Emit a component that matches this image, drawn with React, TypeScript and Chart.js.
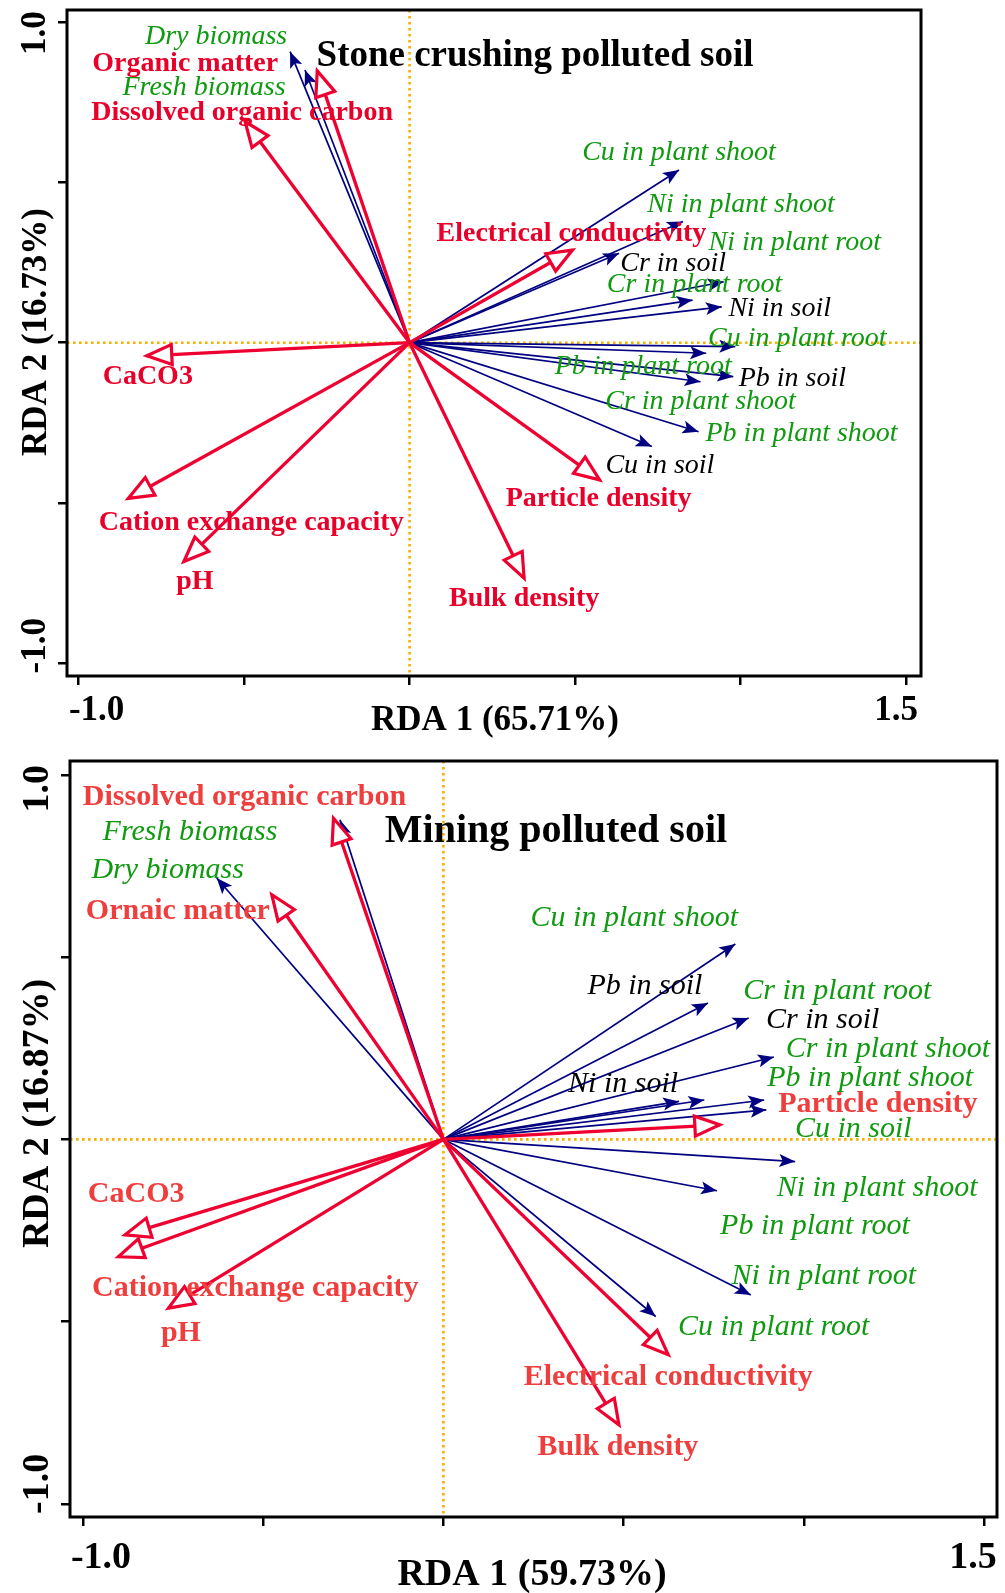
import React, { useEffect, useRef } from 'react';
import { Chart, registerables } from 'chart.js';

Chart.register(...registerables);

// ---------------- Data: Stone crushing polluted soil ----------------
const stoneEnvNames = ['Organic matter', 'Dissolved organic carbon', 'Electrical conductivity', 'CaCO3', 'Cation exchange capacity', 'pH', 'Bulk density', 'Particle density'];
const stoneEnvRDA1 = [-0.279, -0.497, 0.492, -0.794, -0.850, -0.682, 0.346, 0.574];
const stoneEnvRDA2 = [0.848, 0.690, 0.289, -0.041, -0.486, -0.683, -0.735, -0.428];

const stoneSpNames = ['Dry biomass', 'Fresh biomass', 'Cu in plant shoot', 'Ni in plant shoot', 'Ni in plant root', 'Cr in soil', 'Cr in plant root', 'Ni in soil', 'Cu in plant root', 'Pb in plant root', 'Pb in soil', 'Cr in plant shoot', 'Pb in plant shoot', 'Cu in soil'];
const stoneSpRDA1 = [-0.361, -0.316, 0.814, 0.826, 0.949, 0.633, 0.855, 0.943, 0.984, 0.896, 0.978, 0.879, 0.873, 0.732];
const stoneSpRDA2 = [0.908, 0.851, 0.539, 0.378, 0.190, 0.279, 0.133, 0.112, -0.012, -0.033, -0.106, -0.122, -0.278, -0.324];

// ---------------- Data: Mining polluted soil ----------------
const mineEnvNames = ['Dissolved organic carbon', 'Ornaic matter', 'Particle density', 'CaCO3', 'Cation exchange capacity', 'pH', 'Electrical conductivity', 'Bulk density'];
const mineEnvRDA1 = [-0.305, -0.476, 0.767, -0.883, -0.902, -0.763, 0.624, 0.487];
const mineEnvRDA2 = [0.881, 0.671, 0.040, -0.262, -0.322, -0.463, -0.591, -0.783];

const mineSpNames = ['Fresh biomass', 'Dry biomass', 'Cu in plant shoot', 'Pb in soil', 'Cr in plant root', 'Cr in soil', 'Cr in plant shoot', 'Pb in plant shoot', 'Ni in soil', 'Cu in soil', 'Ni in plant shoot', 'Pb in plant root', 'Ni in plant root', 'Cu in plant root'];
const mineSpRDA1 = [-0.287, -0.629, 0.810, 0.734, 0.724, 0.847, 0.917, 0.890, 0.654, 0.896, 0.976, 0.759, 0.853, 0.589];
const mineSpRDA2 = [0.877, 0.717, 0.536, 0.374, 0.108, 0.333, 0.226, 0.108, 0.104, 0.081, -0.061, -0.141, -0.427, -0.486];

// ---------------- Axes ----------------
const xTickValues = [-1, -0.5, 0, 0.5, 1, 1.5];
const xTickLabels = ['-1.0', '', '', '', '', '1.5'];
const yTickValues = [-1, -0.5, 0, 0.5, 1];
const yTickLabels = ['-1.0', '', '', '', '1.0'];

const stoneTitle = 'Stone crushing polluted soil';
const stoneXTitle = 'RDA 1 (65.71%)';
const stoneYTitle = 'RDA 2 (16.73%)';
const mineTitle = 'Mining polluted soil';
const mineXTitle = 'RDA 1 (59.73%)';
const mineYTitle = 'RDA 2 (16.87%)';

// ---------------- Layout / style (label offsets in px from arrow tip) ----------------
const stoneEnvLabelOffsets = [[-132, -9], [-3, -11], [-1, -18.5], [1, 19], [123, 22], [11, 18], [0, 18], [-1, 17]];
const stoneSpLabelOffsets = [[-74, -17], [-101, 15.5], [0, -19], [58, -18.7], [71, -41], [54, 8], [2, -17], [58, 0], [62, -10], [-63, 11], [59, 0], [0, 18], [103, 0], [8, 17]];
const stoneSpTone = ['g', 'g', 'g', 'g', 'g', 'k', 'g', 'k', 'g', 'g', 'k', 'g', 'g', 'k'];

const mineEnvLabelOffsets = [[-89, -23], [-94, 14], [158, -22.5], [11, -42.5], [137, 29], [12.5, 23], [0, 20.5], [-1, 20.5]];
const mineSpLabelOffsets = [[-150, 10], [-49, -9.6], [-101, -28], [-63, -19], [133, -111], [74, 0], [114, -10], [106, -24], [-56, -19], [87, 17.5], [82, 24], [98, 33.5], [73, -21], [118, 9]];
const mineSpTone = ['g', 'g', 'g', 'k', 'g', 'k', 'g', 'g', 'k', 'g', 'g', 'g', 'g', 'g'];

const RED = '#ee0030';
const NAVY = '#000080';
const GREEN = '#0f9a0f';
const ORANGE = '#f5b000';
const FONT = '"Liberation Serif", "Times New Roman", serif';

type PanelCfg = {
  top: number; height: number;
  pad: { left: number; right: number; top: number; bottom: number };
  xMin: number; xMax: number; yMin: number; yMax: number;
  envNames: string[]; envX: number[]; envY: number[]; envOff: number[][];
  spNames: string[]; spX: number[]; spY: number[]; spOff: number[][]; spTone: string[];
  envLabelColor: string;
  labelSize: number; titleSize: number; axisSize: number;
  title: string; titleCenter: [number, number];
  xTitle: string; xTitleCenter: [number, number];
  yTitle: string; yTitleCenter: [number, number];
  xTickDy: number; xTickDx: [number, number];
  yTickX: number; yTickDy: [number, number];
};

const panels: PanelCfg[] = [
  {
    top: 0, height: 740,
    pad: { left: 27, right: 84, top: 10, bottom: 44 },
    xMin: -1.035, xMax: 1.545, yMin: -1.040, yMax: 1.038,
    envNames: stoneEnvNames, envX: stoneEnvRDA1, envY: stoneEnvRDA2, envOff: stoneEnvLabelOffsets,
    spNames: stoneSpNames, spX: stoneSpRDA1, spY: stoneSpRDA2, spOff: stoneSpLabelOffsets, spTone: stoneSpTone,
    envLabelColor: '#e8002a',
    labelSize: 28, titleSize: 37, axisSize: 35,
    title: stoneTitle, titleCenter: [535, 53.5],
    xTitle: stoneXTitle, xTitleCenter: [495, 718],
    yTitle: stoneYTitle, yTitleCenter: [34, 332],
    xTickDy: 32.5, xTickDx: [18, -10],
    yTickX: 33, yTickDy: [-17.5, 11],
  },
  {
    top: 740, height: 853,
    pad: { left: 30, right: 8, top: 21, bottom: 56 },
    xMin: -1.036, xMax: 1.536, yMin: -1.036, yMax: 1.038,
    envNames: mineEnvNames, envX: mineEnvRDA1, envY: mineEnvRDA2, envOff: mineEnvLabelOffsets,
    spNames: mineSpNames, spX: mineSpRDA1, spY: mineSpRDA2, spOff: mineSpLabelOffsets, spTone: mineSpTone,
    envLabelColor: '#ef3e3e',
    labelSize: 30, titleSize: 40, axisSize: 38,
    title: mineTitle, titleCenter: [556, 89],
    xTitle: mineXTitle, xTitleCenter: [532, 832.5],
    yTitle: mineYTitle, yTitleCenter: [35, 373.5],
    xTickDy: 38, xTickDx: [18, -11],
    yTickX: 35, yTickDy: [-20, 14],
  },
];

function drawCenteredText(ctx: CanvasRenderingContext2D, text: string, cx: number, cy: number, size: number, rotate = false) {
  ctx.save();
  ctx.translate(cx, cy);
  if (rotate) ctx.rotate(-Math.PI / 2);
  ctx.textAlign = 'center';
  ctx.textBaseline = 'alphabetic';
  ctx.fillText(text, 0, 0.331 * size);
  ctx.restore();
}

function Panel({ cfg }: { cfg: PanelCfg }) {
  const ref = useRef<HTMLCanvasElement>(null);
  useEffect(() => {
    const canvas = ref.current;
    if (!canvas) return;
    const datasets: any[] = [];
    cfg.envNames.forEach((n, i) => {
      datasets.push({
        label: n,
        data: [{ x: 0, y: 0 }, { x: cfg.envX[i], y: cfg.envY[i] }],
        showLine: true, borderColor: RED, backgroundColor: RED, borderWidth: 3.3,
        pointRadius: 0, pointHoverRadius: 0, fill: false, tension: 0,
      });
    });
    cfg.spNames.forEach((n, i) => {
      datasets.push({
        label: n,
        data: [{ x: 0, y: 0 }, { x: cfg.spX[i], y: cfg.spY[i] }],
        showLine: true, borderColor: NAVY, backgroundColor: NAVY, borderWidth: 1.7,
        pointRadius: 0, pointHoverRadius: 0, fill: false, tension: 0,
      });
    });

    const plugin = {
      id: 'rdaDecor',
      beforeDatasetsDraw(chart: any) {
        const { ctx, chartArea: a, scales } = chart;
        const x0 = scales.x.getPixelForValue(0);
        const y0 = scales.y.getPixelForValue(0);
        ctx.save();
        ctx.strokeStyle = ORANGE;
        ctx.lineWidth = 2.6;
        ctx.setLineDash([2.6, 3.4]);
        ctx.beginPath();
        ctx.moveTo(x0, a.top);
        ctx.lineTo(x0, a.bottom);
        ctx.moveTo(a.left, y0);
        ctx.lineTo(a.right, y0);
        ctx.stroke();
        ctx.restore();
      },
      afterDatasetsDraw(chart: any) {
        const { ctx, scales } = chart;
        const ox = scales.x.getPixelForValue(0);
        const oy = scales.y.getPixelForValue(0);
        ctx.save();
        // navy filled heads
        cfg.spNames.forEach((_, i) => {
          const tx = scales.x.getPixelForValue(cfg.spX[i]);
          const ty = scales.y.getPixelForValue(cfg.spY[i]);
          const ang = Math.atan2(ty - oy, tx - ox);
          ctx.save();
          ctx.translate(tx, ty);
          ctx.rotate(ang);
          ctx.fillStyle = NAVY;
          ctx.beginPath();
          ctx.moveTo(0, 0);
          ctx.lineTo(-16, -6.5);
          ctx.lineTo(-12.5, 0);
          ctx.lineTo(-16, 6.5);
          ctx.closePath();
          ctx.fill();
          ctx.restore();
        });
        // red open heads
        cfg.envNames.forEach((_, i) => {
          const tx = scales.x.getPixelForValue(cfg.envX[i]);
          const ty = scales.y.getPixelForValue(cfg.envY[i]);
          const ang = Math.atan2(ty - oy, tx - ox);
          ctx.save();
          ctx.translate(tx, ty);
          ctx.rotate(ang);
          ctx.beginPath();
          ctx.moveTo(0, 0);
          ctx.lineTo(-25, -10);
          ctx.lineTo(-25, 10);
          ctx.closePath();
          ctx.fillStyle = '#ffffff';
          ctx.fill();
          ctx.strokeStyle = RED;
          ctx.lineWidth = 3.2;
          ctx.lineJoin = 'miter';
          ctx.stroke();
          ctx.restore();
        });
        ctx.restore();
      },
      afterDraw(chart: any) {
        const { ctx, chartArea: a, scales } = chart;
        ctx.save();
        // frame
        ctx.strokeStyle = '#000';
        ctx.lineWidth = 3;
        ctx.strokeRect(a.left, a.top, a.right - a.left, a.bottom - a.top);

        // labels
        ctx.font = `bold ${cfg.labelSize}px ${FONT}`;
        ctx.fillStyle = cfg.envLabelColor;
        cfg.envNames.forEach((n, i) => {
          const tx = scales.x.getPixelForValue(cfg.envX[i]);
          const ty = scales.y.getPixelForValue(cfg.envY[i]);
          drawCenteredText(ctx, n, tx + cfg.envOff[i][0], ty + cfg.envOff[i][1], cfg.labelSize);
        });
        ctx.font = `italic ${cfg.labelSize}px ${FONT}`;
        cfg.spNames.forEach((n, i) => {
          const tx = scales.x.getPixelForValue(cfg.spX[i]);
          const ty = scales.y.getPixelForValue(cfg.spY[i]);
          ctx.fillStyle = cfg.spTone[i] === 'k' ? '#000' : GREEN;
          drawCenteredText(ctx, n, tx + cfg.spOff[i][0], ty + cfg.spOff[i][1], cfg.labelSize);
        });

        // panel title
        ctx.fillStyle = '#000';
        ctx.font = `bold ${cfg.titleSize}px ${FONT}`;
        drawCenteredText(ctx, cfg.title, cfg.titleCenter[0], cfg.titleCenter[1], cfg.titleSize);

        // tick labels & axis titles
        ctx.font = `bold ${cfg.axisSize}px ${FONT}`;
        const xLab = xTickValues.map((v, i) => ({ v, t: xTickLabels[i] })).filter(d => d.t);
        xLab.forEach((d, k) => {
          const px = scales.x.getPixelForValue(d.v) + (k === 0 ? cfg.xTickDx[0] : cfg.xTickDx[1]);
          drawCenteredText(ctx, d.t, px, a.bottom + cfg.xTickDy, cfg.axisSize);
        });
        const yLab = yTickValues.map((v, i) => ({ v, t: yTickLabels[i] })).filter(d => d.t);
        yLab.forEach((d, k) => {
          const py = scales.y.getPixelForValue(d.v) + (k === 0 ? cfg.yTickDy[0] : cfg.yTickDy[1]);
          drawCenteredText(ctx, d.t, cfg.yTickX, py, cfg.axisSize, true);
        });
        drawCenteredText(ctx, cfg.xTitle, cfg.xTitleCenter[0], cfg.xTitleCenter[1], cfg.axisSize);
        drawCenteredText(ctx, cfg.yTitle, cfg.yTitleCenter[0], cfg.yTitleCenter[1], cfg.axisSize, true);
        ctx.restore();
      },
    };

    const chart = new Chart(canvas, {
      type: 'scatter',
      data: { datasets },
      options: {
        responsive: false,
        animation: false,
        devicePixelRatio: 1,
        events: [],
        layout: { padding: cfg.pad },
        plugins: { legend: { display: false }, tooltip: { enabled: false }, title: { display: false } },
        scales: {
          x: {
            type: 'linear', position: 'bottom', min: cfg.xMin, max: cfg.xMax,
            ticks: { display: false },
            afterBuildTicks: (s: any) => { s.ticks = xTickValues.map(v => ({ value: v })); },
            afterFit: (s: any) => { s.height = 20; },
            grid: { drawOnChartArea: false, drawTicks: true, tickLength: 9, color: '#000', lineWidth: 2.5 },
            border: { display: false },
          },
          y: {
            type: 'linear', position: 'left', min: cfg.yMin, max: cfg.yMax,
            ticks: { display: false },
            afterBuildTicks: (s: any) => { s.ticks = yTickValues.map(v => ({ value: v })); },
            afterFit: (s: any) => { s.width = 40; },
            grid: { drawOnChartArea: false, drawTicks: true, tickLength: 9, color: '#000', lineWidth: 2.5 },
            border: { display: false },
          },
        },
      } as any,
      plugins: [plugin],
    });
    return () => chart.destroy();
  }, [cfg]);
  return (
    <canvas
      ref={ref}
      width={1005}
      height={cfg.height}
      style={{ position: 'absolute', left: 0, top: cfg.top, width: 1005, height: cfg.height, display: 'block' }}
    />
  );
}

export default function App() {
  return (
    <div style={{ position: 'absolute', left: 0, top: 0, width: 1005, height: 1593, background: '#fff' }}>
      {panels.map((p, i) => <Panel key={i} cfg={p} />)}
    </div>
  );
}
